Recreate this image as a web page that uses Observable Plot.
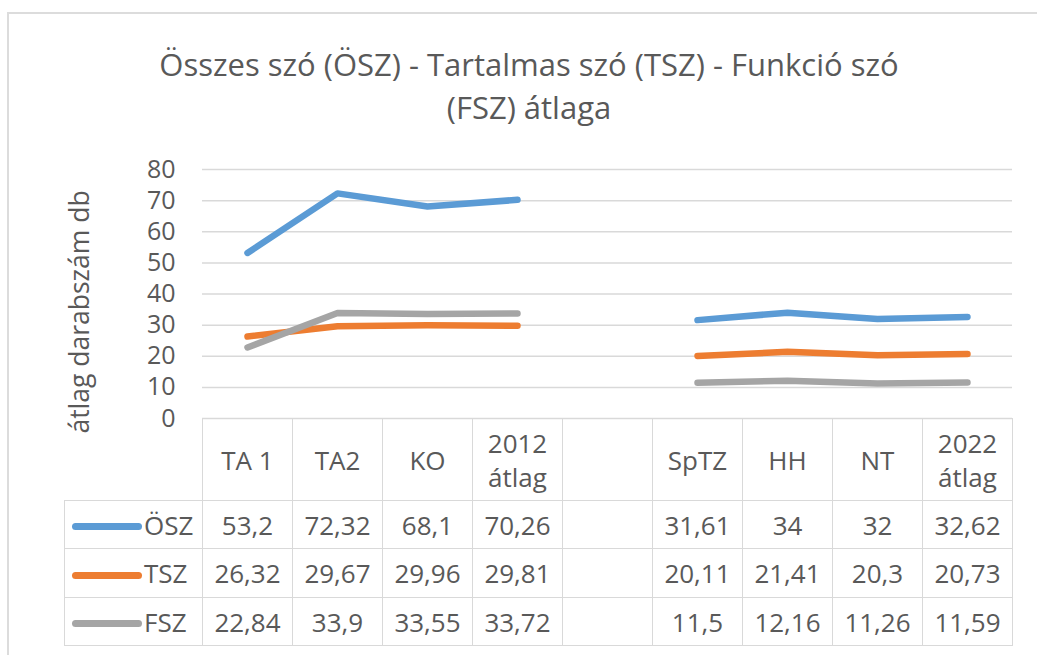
<!DOCTYPE html>
<html>
<head>
<meta charset="utf-8">
<script src="https://cdn.jsdelivr.net/npm/d3@7"></script>
<script src="https://cdn.jsdelivr.net/npm/@observablehq/plot@0.6"></script>
<style>
  html, body { margin: 0; padding: 0; background: #fff; }
  #wrap { position: relative; width: 1037px; height: 655px; overflow: hidden; font-family: "Open Sans", sans-serif; color: #595959; }
  #frame { position: absolute; left: 7px; top: 12px; right: -4px; bottom: -4px; border-left: 2px solid #dcdcdc; border-top: 2px solid #dcdcdc; }
  #title { position: absolute; left: 29px; width: 1000px; top: 43px; text-align: center; font-size: 31px; line-height: 43px; color: #595959; }
  #chart { position: absolute; left: 0; top: 0; }
  #tbl { position: absolute; border-collapse: collapse; table-layout: fixed; font-size: 26px; color: #595959; }
  #tbl td { border: 1.5px solid #d9d9d9; text-align: center; padding: 0; white-space: nowrap; }
  #tbl td.hdr { white-space: normal; line-height: 34px; }
  #tbl td.corner { border-top: none; border-left: none; }
  #tbl td.leg { text-align: left; padding-left: 7px; }
  .key { display: inline-block; width: 70px; height: 7px; border-radius: 4px; vertical-align: middle; margin-right: 2px; position: relative; top: -1px; }
</style>
</head>
<body>
<div id="wrap">
  <div id="frame"></div>
  <div id="title"></div>
  <div id="chart"></div>
</div>
<script>
// ---- data ----
const titleLines = ["Összes szó (ÖSZ) - Tartalmas szó (TSZ) - Funkció szó", "(FSZ) átlaga"];
const yAxisTitle = "átlag darabszám db";
const categories = ["TA 1", "TA2", "KO", "2012 átlag", "", "SpTZ", "HH", "NT", "2022 átlag"];
const seriesNames = ["ÖSZ", "TSZ", "FSZ"];
const seriesColors = ["#5B9BD5", "#ED7D31", "#A5A5A5"];
const oszValues = [53.2, 72.32, 68.1, 70.26, null, 31.61, 34, 32, 32.62];
const tszValues = [26.32, 29.67, 29.96, 29.81, null, 20.11, 21.41, 20.3, 20.73];
const fszValues = [22.84, 33.9, 33.55, 33.72, null, 11.5, 12.16, 11.26, 11.59];
const yTicks = [0, 10, 20, 30, 40, 50, 60, 70, 80];

// ---- table built from the arrays ----
const seriesValues = [oszValues, tszValues, fszValues];
const rows = [];
seriesNames.forEach((s, si) => {
  categories.forEach((c, ci) => {
    const v = seriesValues[si][ci];
    rows.push({series: s, cat: c, value: v == null ? NaN : v});
  });
});

document.getElementById("title").innerHTML = titleLines.join("<br>");

const plot = Plot.plot({
  width: 1037,
  height: 655,
  marginLeft: 202,
  marginRight: 25,
  marginTop: 0,
  marginBottom: 0,
  x: {type: "point", domain: categories, padding: 0.5, axis: null},
  y: {domain: [0, 80], range: [418, 169], axis: null},
  color: {domain: seriesNames, range: seriesColors},
  style: {fontFamily: "'Open Sans', sans-serif", background: "transparent"},
  marks: [
    Plot.ruleY(yTicks, {stroke: "#d9d9d9", strokeWidth: 1.5, strokeOpacity: 1}),
    Plot.axisY(yTicks, {anchor: "left", tickSize: 0, tickPadding: 27, fontSize: 25, fill: "#595959", label: null}),
    Plot.text([yAxisTitle], {frameAnchor: "left", textAnchor: "middle", dx: -122, dy: -16, rotate: -90, fontSize: 26.5, fill: "#595959"}),
    Plot.line(rows, {x: "cat", y: "value", z: "series", stroke: "series", strokeWidth: 6.5, strokeLinecap: "round", strokeLinejoin: "round"})
  ]
});
document.getElementById("chart").appendChild(plot);

// data table aligned with the x scale
const xs = plot.scale("x");
const step = xs.apply(categories[1]) - xs.apply(categories[0]);
const tableLeft = 64;
const firstLeft = xs.apply(categories[0]) - step / 2;
const tbl = document.createElement("table");
tbl.id = "tbl";
tbl.style.left = tableLeft + "px";
tbl.style.top = "418px";
const colgroup = document.createElement("colgroup");
const c0 = document.createElement("col"); c0.style.width = (firstLeft - tableLeft) + "px"; colgroup.appendChild(c0);
categories.forEach(() => { const c = document.createElement("col"); c.style.width = step + "px"; colgroup.appendChild(c); });
tbl.appendChild(colgroup);
const hr = document.createElement("tr");
hr.style.height = "82px";
const corner = document.createElement("td"); corner.className = "corner"; hr.appendChild(corner);
categories.forEach(c => { const td = document.createElement("td"); td.className = "hdr"; td.textContent = c; hr.appendChild(td); });
tbl.appendChild(hr);
const rowHeights = [48, 49, 48];
seriesNames.forEach((s, si) => {
  const tr = document.createElement("tr");
  tr.style.height = rowHeights[si] + "px";
  const lg = document.createElement("td"); lg.className = "leg";
  const key = document.createElement("span"); key.className = "key"; key.style.background = seriesColors[si];
  lg.appendChild(key); lg.appendChild(document.createTextNode(s));
  tr.appendChild(lg);
  categories.forEach((c, ci) => {
    const td = document.createElement("td");
    const v = seriesValues[si][ci];
    td.textContent = v == null ? "" : String(v).replace(".", ",");
    tr.appendChild(td);
  });
  tbl.appendChild(tr);
});
document.getElementById("wrap").appendChild(tbl);
</script>
</body>
</html>
